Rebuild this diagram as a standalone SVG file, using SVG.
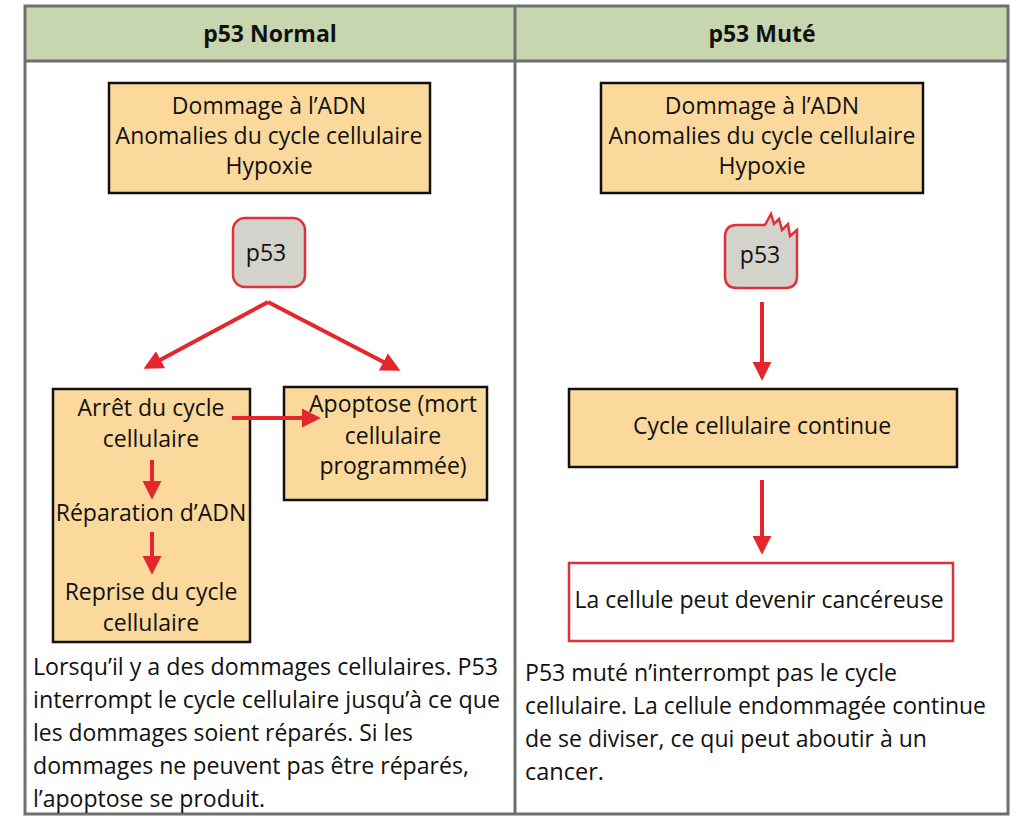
<svg xmlns="http://www.w3.org/2000/svg" width="1024" height="828" viewBox="0 0 1024 828">
<defs>
<style>
text{font-family:"Open Sans","Liberation Sans",sans-serif;fill:#111;}
.c{text-anchor:middle;font-size:23px;}
.h{text-anchor:middle;font-size:23px;font-weight:bold;}
.p{font-size:23px;}
.box{fill:#fbd99d;stroke:#111;stroke-width:2.5;}
.arr{stroke:#e5262c;stroke-width:4;fill:none;marker-end:url(#ah);}
</style>
<marker id="ah" viewBox="0 0 10 10" refX="8" refY="5" markerWidth="4.8" markerHeight="4.8" orient="auto" markerUnits="strokeWidth">
<path d="M0,0 L10,5 L0,10 z" fill="#e5262c"/>
</marker>
</defs>
<rect width="1024" height="828" fill="#fff"/>
<g id="table">
<rect x="25" y="6" width="983" height="55" fill="#c8d6b0"/>
<rect x="25" y="6" width="983" height="808" fill="none" stroke="#6e6e6e" stroke-width="3"/>
<line x1="25" y1="61" x2="1008" y2="61" stroke="#6e6e6e" stroke-width="3"/>
<line x1="515" y1="6" x2="515" y2="814" stroke="#6e6e6e" stroke-width="3"/>
<text class="h" x="270" y="42">p53 Normal</text>
<text class="h" x="762" y="42">p53 Muté</text>
</g>
<g id="n-left-cause">
<rect class="box" x="109" y="83" width="321" height="110"/>
<text class="c" x="269" y="114">Dommage à l’ADN</text>
<text class="c" x="269" y="144">Anomalies du cycle cellulaire</text>
<text class="c" x="269" y="174">Hypoxie</text>
</g>
<g id="n-left-p53">
<rect x="233" y="218" width="72" height="69" rx="12" fill="#d4d3cb" stroke="#e0303a" stroke-width="2.5"/>
<text class="c" x="266" y="261">p53</text>
</g>
<g id="n-arret">
<rect class="box" x="53" y="389" width="197" height="253"/>
<text class="c" x="151" y="416">Arrêt du cycle</text>
<text class="c" x="151" y="447">cellulaire</text>
<text class="c" x="151" y="521">Réparation d’ADN</text>
<text class="c" x="151" y="600">Reprise du cycle</text>
<text class="c" x="151" y="631">cellulaire</text>
</g>
<g id="n-apoptose">
<rect class="box" x="284" y="387" width="203" height="113"/>
<text class="c" x="393" y="412">Apoptose (mort</text>
<text class="c" x="393" y="444">cellulaire</text>
<text class="c" x="393" y="474">programmée)</text>
</g>
<g id="n-left-text">
<text class="p" x="33" y="675" textLength="465" lengthAdjust="spacingAndGlyphs">Lorsqu’il y a des dommages cellulaires. P53</text>
<text class="p" x="33" y="708" textLength="467" lengthAdjust="spacingAndGlyphs">interrompt le cycle cellulaire jusqu’à ce que</text>
<text class="p" x="33" y="741" textLength="380" lengthAdjust="spacingAndGlyphs">les dommages soient réparés. Si les</text>
<text class="p" x="33" y="774" textLength="436" lengthAdjust="spacingAndGlyphs">dommages ne peuvent pas être réparés,</text>
<text class="p" x="33" y="807" textLength="232" lengthAdjust="spacingAndGlyphs">l’apoptose se produit.</text>
</g>
<g id="n-right-cause">
<rect class="box" x="601" y="83" width="322" height="110"/>
<text class="c" x="762" y="114">Dommage à l’ADN</text>
<text class="c" x="762" y="144">Anomalies du cycle cellulaire</text>
<text class="c" x="762" y="174">Hypoxie</text>
</g>
<g id="n-right-p53">
<path d="M765,225 L771,214 L774,224 L779,219 L782,230 L788,224 L790,236 L797,230 L797,276 Q797,288 785,288 L737,288 Q725,288 725,276 L725,237 Q725,225 737,225 Z" fill="#d4d3cb" stroke="#e0303a" stroke-width="2.5" stroke-linejoin="miter"/>
<text class="c" x="760" y="263">p53</text>
</g>
<g id="n-continue">
<rect class="box" x="569" y="389" width="388" height="78"/>
<text class="c" x="762" y="434">Cycle cellulaire continue</text>
</g>
<g id="n-cancer">
<rect x="569" y="563" width="384" height="78" fill="#fff" stroke="#e0303a" stroke-width="2.5"/>
<text class="c" x="759" y="608">La cellule peut devenir cancéreuse</text>
</g>
<g id="n-right-text">
<text class="p" x="525" y="681" textLength="372" lengthAdjust="spacingAndGlyphs">P53 muté n’interrompt pas le cycle</text>
<text class="p" x="525" y="714" textLength="461" lengthAdjust="spacingAndGlyphs">cellulaire. La cellule endommagée continue</text>
<text class="p" x="525" y="747" textLength="402" lengthAdjust="spacingAndGlyphs">de se diviser, ce qui peut aboutir à un</text>
<text class="p" x="525" y="780" textLength="79" lengthAdjust="spacingAndGlyphs">cancer.</text>
</g>
<g id="connectors">
<path class="arr" d="M268,302 L147,367"/>
<path class="arr" d="M268,302 L397,369"/>
<path class="arr" d="M232,418 L317,418"/>
<path class="arr" d="M152,460 L152,496"/>
<path class="arr" d="M152,532 L152,571"/>
<path class="arr" d="M762,302 L762,377"/>
<path class="arr" d="M762,480 L762,551"/>
</g>
</svg>
